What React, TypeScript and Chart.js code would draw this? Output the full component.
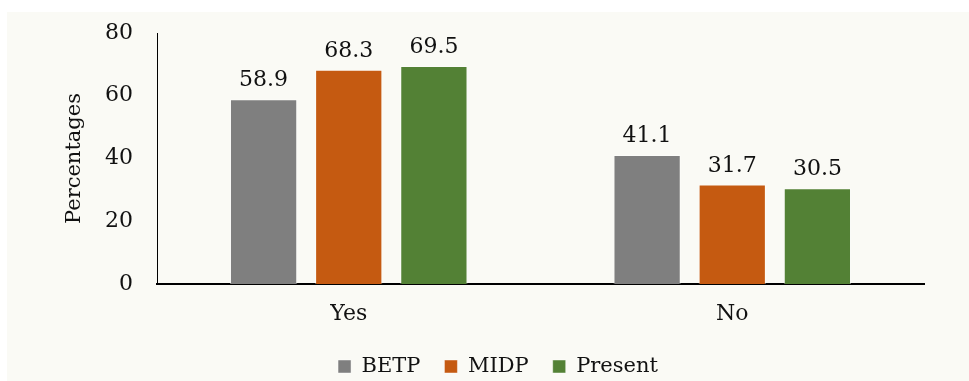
import React, { useEffect, useRef } from "react";
import { Chart, registerables } from "chart.js";

Chart.register(...registerables);

const categories = ["Yes", "No"];
const seriesNames = ["BETP", "MIDP", "Present"];
const betpValues = [58.9, 41.1];
const midpValues = [68.3, 31.7];
const presentValues = [69.5, 30.5];
const seriesColors = ["#7f7f7f", "#c55a11", "#538135"];
const yMin = 0;
const yMax = 80;
const yStep = 20;

const FONT = "'DejaVu Serif', serif";

const valueLabels = {
  id: "valueLabels",
  afterDatasetsDraw(chart: any) {
    const ctx = chart.ctx;
    ctx.save();
    ctx.font = `22px ${FONT}`;
    ctx.fillStyle = "#111";
    ctx.textAlign = "center";
    ctx.textBaseline = "alphabetic";
    chart.data.datasets.forEach((ds: any, i: number) => {
      const meta = chart.getDatasetMeta(i);
      meta.data.forEach((bar: any, j: number) => {
        ctx.fillText(String(ds.data[j]), bar.x, bar.y - 13);
      });
    });
    ctx.restore();
  },
};

const legendShift = {
  id: "legendShift",
  afterLayout(chart: any) {
    if (chart.legend) {
      chart.legend.top += 6;
      chart.legend.bottom += 6;
    }
  },
};

export default function App() {
  const ref = useRef<HTMLCanvasElement | null>(null);

  useEffect(() => {
    if (!ref.current) return;
    const allValues = [betpValues, midpValues, presentValues];
    const chart = new Chart(ref.current, {
      type: "bar",
      data: {
        labels: categories,
        datasets: seriesNames.map((name, i) => ({
          label: name,
          data: allValues[i],
          backgroundColor: seriesColors[i],
          borderColor: "rgba(255,255,255,0.45)",
          borderWidth: 1,
          barPercentage: 0.79,
          categoryPercentage: 0.666,
        })),
      },
      options: {
        responsive: false,
        animation: false,
        layout: { padding: { left: 65, right: 45, top: 21, bottom: 0 } },
        plugins: {
          legend: {
            position: "bottom",
            labels: {
              font: { family: FONT, size: 21 },
              color: "#111",
              boxWidth: 13,
              boxHeight: 13,
              padding: 24,
            },
          },
          tooltip: { enabled: false },
          title: { display: false },
        },
        scales: {
          x: {
            grid: { display: false, drawTicks: false },
            border: { display: true, color: "#000", width: 2 },
            ticks: { font: { family: FONT, size: 22 }, color: "#111", padding: 17 },
            afterFit: (s: any) => {
              s.height = 42;
            },
          },
          y: {
            min: yMin,
            max: yMax,
            grid: { display: false, drawTicks: false },
            border: { display: true, color: "#000", width: 1 },
            ticks: { stepSize: yStep, font: { family: FONT, size: 22 }, color: "#111", padding: 24 },
            title: {
              display: true,
              text: "Percentages",
              font: { family: FONT, size: 21 },
              color: "#111",
              padding: { top: -10, bottom: 0 },
            },
            afterFit: (s: any) => {
              s.width = 85;
              s.paddingTop = 10;
              s.paddingBottom = 0;
            },
          },
        },
      },
      plugins: [valueLabels, legendShift],
    });
    return () => chart.destroy();
  }, []);

  return (
    <div
      style={{
        position: "absolute",
        left: 7,
        top: 12,
        width: 962,
        height: 369,
        background: "#fafaf5",
      }}
    >
      <canvas ref={ref} width={962} height={369} />
    </div>
  );
}
